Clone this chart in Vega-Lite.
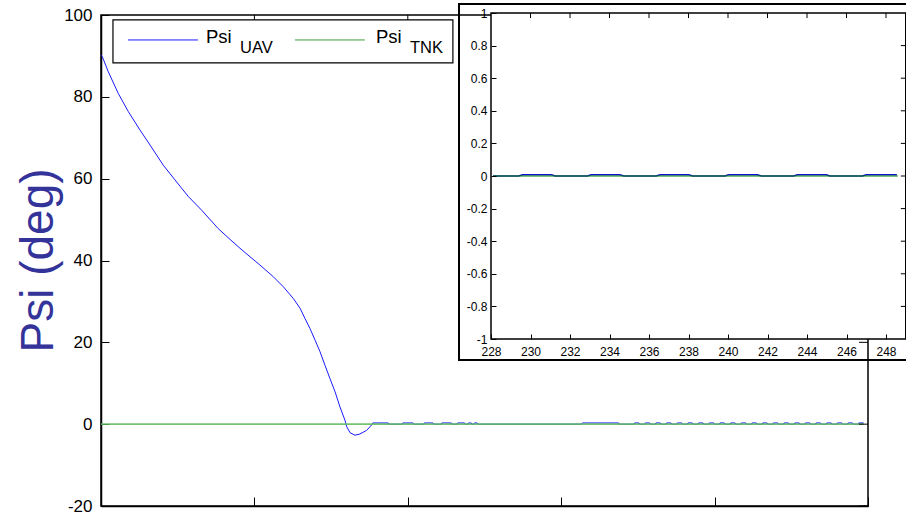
{
  "$schema": "https://vega.github.io/schema/vega-lite/v6.json",
  "width": 767,
  "height": 491,
  "autosize": {"type": "none"},
  "padding": {"left": 101, "top": 15, "right": 38, "bottom": 11},
  "background": "white",
  "config": {
    "font": "Liberation Sans",
    "view": {"stroke": "black", "strokeWidth": 1.5},
    "axis": {"grid": false, "domainColor": "black", "tickColor": "black", "labelColor": "black", "domainWidth": 1.5, "labelFont": "Liberation Sans", "labelFlush": false, "labelOverlap": false}
  },
  "datasets": {
    "uav": [
      {"t": 0, "psi": 90.2}, {"t": 0.43, "psi": 89.8}, {"t": 2.39, "psi": 86.1}, {"t": 5.65, "psi": 80.8},
      {"t": 8.9, "psi": 76.4}, {"t": 12.7, "psi": 71.9}, {"t": 16.0, "psi": 68.2}, {"t": 20.3, "psi": 63.3},
      {"t": 24.1, "psi": 59.7}, {"t": 28.5, "psi": 55.6}, {"t": 32.8, "psi": 52.3}, {"t": 38.2, "psi": 47.8},
      {"t": 42.0, "psi": 45.2}, {"t": 45.3, "psi": 43.0}, {"t": 48.6, "psi": 40.9}, {"t": 51.8, "psi": 38.9},
      {"t": 56.2, "psi": 36.0}, {"t": 59.4, "psi": 33.6}, {"t": 62.7, "psi": 30.7}, {"t": 64.9, "psi": 28.3},
      {"t": 66.5, "psi": 25.8}, {"t": 68.1, "psi": 23.4}, {"t": 69.8, "psi": 20.5}, {"t": 71.4, "psi": 17.7},
      {"t": 73.0, "psi": 14.4}, {"t": 74.6, "psi": 11.2}, {"t": 76.3, "psi": 7.9}, {"t": 77.9, "psi": 4.2},
      {"t": 79.5, "psi": 1.0}, {"t": 80.1, "psi": -0.65}, {"t": 81.2, "psi": -2.1}, {"t": 82.8, "psi": -2.7},
      {"t": 84.4, "psi": -2.4}, {"t": 86.6, "psi": -1.5}, {"t": 88.2, "psi": -0.2}, {"t": 88.6, "psi": 0.3},
      {"t": 93.6, "psi": 0.3},
      {"t": 93.8, "psi": 0}, {"t": 98.2, "psi": 0}, {"t": 98.4, "psi": 0.3}, {"t": 101.7, "psi": 0.3},
      {"t": 101.9, "psi": 0}, {"t": 105.2, "psi": 0}, {"t": 105.4, "psi": 0.3}, {"t": 108.2, "psi": 0.3},
      {"t": 108.4, "psi": 0}, {"t": 110.9, "psi": 0}, {"t": 111.1, "psi": 0.3}, {"t": 114.2, "psi": 0.3},
      {"t": 114.4, "psi": 0}, {"t": 116.0, "psi": 0}, {"t": 116.2, "psi": 0.3}, {"t": 118.5, "psi": 0.3},
      {"t": 118.7, "psi": 0}, {"t": 119.6, "psi": 0}, {"t": 119.8, "psi": 0.3}, {"t": 120.7, "psi": 0.3},
      {"t": 120.9, "psi": 0}, {"t": 121.5, "psi": 0}, {"t": 121.7, "psi": 0.3}, {"t": 122.6, "psi": 0.3},
      {"t": 122.8, "psi": 0}, {"t": 156.7, "psi": 0}, {"t": 156.9, "psi": 0.3}, {"t": 168.7, "psi": 0.3},
      {"t": 168.9, "psi": 0},
      {"t": 173.72, "psi": 0}, {"t": 173.92, "psi": 0.3}, {"t": 175.37, "psi": 0.3}, {"t": 175.57, "psi": 0},
      {"t": 177.2, "psi": 0}, {"t": 177.4, "psi": 0.3}, {"t": 178.85, "psi": 0.3}, {"t": 179.05, "psi": 0},
      {"t": 180.68, "psi": 0}, {"t": 180.88, "psi": 0.3}, {"t": 182.33, "psi": 0.3}, {"t": 182.53, "psi": 0},
      {"t": 184.16, "psi": 0}, {"t": 184.36, "psi": 0.3}, {"t": 185.81, "psi": 0.3}, {"t": 186.01, "psi": 0},
      {"t": 187.64, "psi": 0}, {"t": 187.84, "psi": 0.3}, {"t": 189.29, "psi": 0.3}, {"t": 189.49, "psi": 0},
      {"t": 191.12, "psi": 0}, {"t": 191.32, "psi": 0.3}, {"t": 192.77, "psi": 0.3}, {"t": 192.97, "psi": 0},
      {"t": 194.6, "psi": 0}, {"t": 194.8, "psi": 0.3}, {"t": 196.25, "psi": 0.3}, {"t": 196.45, "psi": 0},
      {"t": 198.08, "psi": 0}, {"t": 198.28, "psi": 0.3}, {"t": 199.73, "psi": 0.3}, {"t": 199.93, "psi": 0},
      {"t": 201.56, "psi": 0}, {"t": 201.76, "psi": 0.3}, {"t": 203.21, "psi": 0.3}, {"t": 203.41, "psi": 0},
      {"t": 205.04, "psi": 0}, {"t": 205.24, "psi": 0.3}, {"t": 206.69, "psi": 0.3}, {"t": 206.89, "psi": 0},
      {"t": 208.52, "psi": 0}, {"t": 208.72, "psi": 0.3}, {"t": 210.17, "psi": 0.3}, {"t": 210.37, "psi": 0},
      {"t": 212.0, "psi": 0}, {"t": 212.2, "psi": 0.3}, {"t": 213.65, "psi": 0.3}, {"t": 213.85, "psi": 0},
      {"t": 215.48, "psi": 0}, {"t": 215.68, "psi": 0.3}, {"t": 217.13, "psi": 0.3}, {"t": 217.33, "psi": 0},
      {"t": 218.96, "psi": 0}, {"t": 219.16, "psi": 0.3}, {"t": 220.61, "psi": 0.3}, {"t": 220.81, "psi": 0},
      {"t": 222.44, "psi": 0}, {"t": 222.64, "psi": 0.3}, {"t": 224.09, "psi": 0.3}, {"t": 224.29, "psi": 0},
      {"t": 225.92, "psi": 0}, {"t": 226.12, "psi": 0.3}, {"t": 227.57, "psi": 0.3}, {"t": 227.77, "psi": 0},
      {"t": 229.4, "psi": 0}, {"t": 229.6, "psi": 0.3}, {"t": 231.05, "psi": 0.3}, {"t": 231.25, "psi": 0},
      {"t": 232.88, "psi": 0}, {"t": 233.08, "psi": 0.3}, {"t": 234.53, "psi": 0.3}, {"t": 234.73, "psi": 0},
      {"t": 236.36, "psi": 0}, {"t": 236.56, "psi": 0.3}, {"t": 238.01, "psi": 0.3}, {"t": 238.21, "psi": 0},
      {"t": 239.84, "psi": 0}, {"t": 240.04, "psi": 0.3}, {"t": 241.49, "psi": 0.3}, {"t": 241.69, "psi": 0},
      {"t": 243.32, "psi": 0}, {"t": 243.52, "psi": 0.3}, {"t": 244.97, "psi": 0.3}, {"t": 245.17, "psi": 0},
      {"t": 246.8, "psi": 0}, {"t": 247.0, "psi": 0.3}, {"t": 248.55, "psi": 0.3}
    ],
    "uavInset": [
      {"t": 228.1, "psi": 0}, {"t": 229.4, "psi": 0}, {"t": 229.6, "psi": 0.007}, {"t": 231.05, "psi": 0.007}, {"t": 231.25, "psi": 0},
      {"t": 232.88, "psi": 0}, {"t": 233.08, "psi": 0.007}, {"t": 234.53, "psi": 0.007}, {"t": 234.73, "psi": 0},
      {"t": 236.36, "psi": 0}, {"t": 236.56, "psi": 0.007}, {"t": 238.01, "psi": 0.007}, {"t": 238.21, "psi": 0},
      {"t": 239.84, "psi": 0}, {"t": 240.04, "psi": 0.007}, {"t": 241.49, "psi": 0.007}, {"t": 241.69, "psi": 0},
      {"t": 243.32, "psi": 0}, {"t": 243.52, "psi": 0.007}, {"t": 244.97, "psi": 0.007}, {"t": 245.17, "psi": 0},
      {"t": 246.8, "psi": 0}, {"t": 247.0, "psi": 0.007}, {"t": 248.55, "psi": 0.007}
    ],
    "tnk": [
      {"t": 0, "psi": 0}, {"t": 228.1, "psi": 0}, {"t": 248.6, "psi": 0}
    ],
    "mainTopTicks": [{"t": 50}, {"t": 100}, {"t": 150}, {"t": 200}],
    "mainRightTicks": [{"v": -20}, {"v": 0}, {"v": 20}, {"v": 40}, {"v": 60}, {"v": 80}, {"v": 100}],
    "insetTopTicks": [{"t": 230}, {"t": 232}, {"t": 234}, {"t": 236}, {"t": 238}, {"t": 240}, {"t": 242}, {"t": 244}, {"t": 246}, {"t": 248}],
    "insetRightTicks": [{"v": -0.8}, {"v": -0.6}, {"v": -0.4}, {"v": -0.2}, {"v": 0}, {"v": 0.2}, {"v": 0.4}, {"v": 0.6}, {"v": 0.8}]
  },
  "layer": [
    {
      "layer": [
        {
          "data": {"name": "uav"},
          "mark": {"type": "line", "color": "#1a1aff", "strokeWidth": 1},
          "encoding": {
            "x": {"field": "t", "type": "quantitative", "scale": {"domain": [0, 250], "nice": false, "zero": false},
                  "axis": {"labels": false, "title": null, "values": [0, 50, 100, 150, 200, 250], "tickSize": -9, "zindex": 0}},
            "y": {"field": "psi", "type": "quantitative", "scale": {"domain": [-20, 100], "nice": false, "zero": false},
                  "axis": {"title": "Psi (deg)", "values": [-20, 0, 20, 40, 60, 80, 100], "tickSize": -8, "labelPadding": 17,
                           "labelFontSize": 17, "labelExpr": "'' + datum.value", "zindex": 0,
                           "titleFontSize": 46, "titleColor": "#33339a", "titleFontWeight": "normal", "titleFont": "Liberation Sans",
                           "titleX": -49, "titleY": 245, "titleAngle": 270, "titleAlign": "center", "titleBaseline": "alphabetic"}}
          }
        },
        {
          "data": {"name": "tnk"},
          "mark": {"type": "line", "color": "#5cb85c", "strokeWidth": 1.6, "opacity": 0.85},
          "encoding": {
            "x": {"field": "t", "type": "quantitative"},
            "y": {"field": "psi", "type": "quantitative"}
          }
        },
        {
          "data": {"name": "mainTopTicks"},
          "mark": {"type": "rule", "color": "black", "strokeWidth": 1},
          "encoding": {
            "x": {"field": "t", "type": "quantitative"},
            "y": {"datum": 100, "type": "quantitative"},
            "y2": {"datum": 97.8}
          }
        },
        {
          "data": {"name": "mainRightTicks"},
          "mark": {"type": "rule", "color": "black", "strokeWidth": 1},
          "encoding": {
            "y": {"field": "v", "type": "quantitative"},
            "x": {"datum": 250, "type": "quantitative"},
            "x2": {"datum": 247.07}
          }
        },
        {
          "data": {"values": [{}]},
          "mark": {"type": "rect", "fill": "white", "stroke": "black", "strokeWidth": 1.2},
          "encoding": {
            "x": {"datum": 3.9, "type": "quantitative"},
            "x2": {"datum": 114.7},
            "y": {"datum": 88.3, "type": "quantitative"},
            "y2": {"datum": 98.8}
          }
        },
        {
          "data": {"values": [{}]},
          "mark": {"type": "rule", "color": "#1a1aff", "strokeWidth": 1},
          "encoding": {
            "x": {"datum": 8.8, "type": "quantitative"},
            "x2": {"datum": 31.6},
            "y": {"datum": 93.9, "type": "quantitative"}
          }
        },
        {
          "data": {"values": [{}]},
          "mark": {"type": "rule", "color": "#3aa03a", "strokeWidth": 1},
          "encoding": {
            "x": {"datum": 63.2, "type": "quantitative"},
            "x2": {"datum": 86.0},
            "y": {"datum": 93.9, "type": "quantitative"}
          }
        },
        {
          "data": {"values": [{}]},
          "mark": {"type": "text", "align": "left", "baseline": "alphabetic", "fontSize": 18.5, "color": "black"},
          "encoding": {
            "x": {"datum": 34.2, "type": "quantitative"},
            "y": {"datum": 93.08, "type": "quantitative"},
            "text": {"value": "Psi"}
          }
        },
        {
          "data": {"values": [{}]},
          "mark": {"type": "text", "align": "left", "baseline": "alphabetic", "fontSize": 16.5, "color": "black"},
          "encoding": {
            "x": {"datum": 45.3, "type": "quantitative"},
            "y": {"datum": 90.8, "type": "quantitative"},
            "text": {"value": "UAV"}
          }
        },
        {
          "data": {"values": [{}]},
          "mark": {"type": "text", "align": "left", "baseline": "alphabetic", "fontSize": 18.5, "color": "black"},
          "encoding": {
            "x": {"datum": 89.6, "type": "quantitative"},
            "y": {"datum": 93.08, "type": "quantitative"},
            "text": {"value": "Psi"}
          }
        },
        {
          "data": {"values": [{}]},
          "mark": {"type": "text", "align": "left", "baseline": "alphabetic", "fontSize": 16.5, "color": "black"},
          "encoding": {
            "x": {"datum": 100.7, "type": "quantitative"},
            "y": {"datum": 90.8, "type": "quantitative"},
            "text": {"value": "TNK"}
          }
        }
      ]
    },
    {
      "layer": [
        {
          "data": {"values": [{}]},
          "mark": {"type": "rect", "fill": "white", "stroke": "black", "strokeWidth": 1.5},
          "encoding": {
            "x": {"datum": 228, "type": "quantitative",
                  "scale": {"domain": [228, 249], "range": [390, 804.75], "nice": false, "zero": false},
                  "axis": {"orient": "bottom", "offset": -167, "title": null, "values": [228, 230, 232, 234, 236, 238, 240, 242, 244, 246, 248],
                           "tickSize": -5, "labelPadding": 12, "labelFontSize": 12, "labelExpr": "'' + datum.value", "zindex": 1, "domain": false}},
            "x2": {"datum": 249},
            "y": {"datum": -1, "type": "quantitative",
                  "scale": {"domain": [-1, 1], "range": [324, -2], "nice": false, "zero": false},
                  "axis": {"orient": "left", "offset": -390, "title": null, "values": [-1, -0.8, -0.6, -0.4, -0.2, 0, 0.2, 0.4, 0.6, 0.8, 1],
                           "tickSize": -5, "labelPadding": 9, "labelFontSize": 12, "labelExpr": "'' + datum.value", "zindex": 1, "domain": false}},
            "y2": {"datum": 1}
          }
        },
        {
          "data": {"values": [{}]},
          "mark": {"type": "rect", "filled": false, "color": "black", "strokeWidth": 2},
          "encoding": {
            "x": {"datum": 226.38, "type": "quantitative"},
            "x2": {"datum": 250.5},
            "y": {"datum": -1.129, "type": "quantitative"},
            "y2": {"datum": 1.055}
          }
        },
        {
          "data": {"name": "uavInset"},
          "mark": {"type": "line", "color": "#1010d0", "strokeWidth": 1.5},
          "encoding": {
            "x": {"field": "t", "type": "quantitative"},
            "y": {"field": "psi", "type": "quantitative"}
          }
        },
        {
          "data": {"name": "tnk"},
          "transform": [{"filter": "datum.t >= 228"}],
          "mark": {"type": "line", "color": "#008000", "strokeWidth": 1.2},
          "encoding": {
            "x": {"field": "t", "type": "quantitative"},
            "y": {"field": "psi", "type": "quantitative"}
          }
        },
        {
          "data": {"name": "insetTopTicks"},
          "mark": {"type": "rule", "color": "black", "strokeWidth": 1},
          "encoding": {
            "x": {"field": "t", "type": "quantitative"},
            "y": {"datum": 1, "type": "quantitative"},
            "y2": {"datum": 0.969}
          }
        },
        {
          "data": {"name": "insetRightTicks"},
          "mark": {"type": "rule", "color": "black", "strokeWidth": 1},
          "encoding": {
            "y": {"field": "v", "type": "quantitative"},
            "x": {"datum": 249, "type": "quantitative"},
            "x2": {"datum": 248.75}
          }
        }
      ]
    }
  ],
  "resolve": {"scale": {"x": "independent", "y": "independent"}}
}
